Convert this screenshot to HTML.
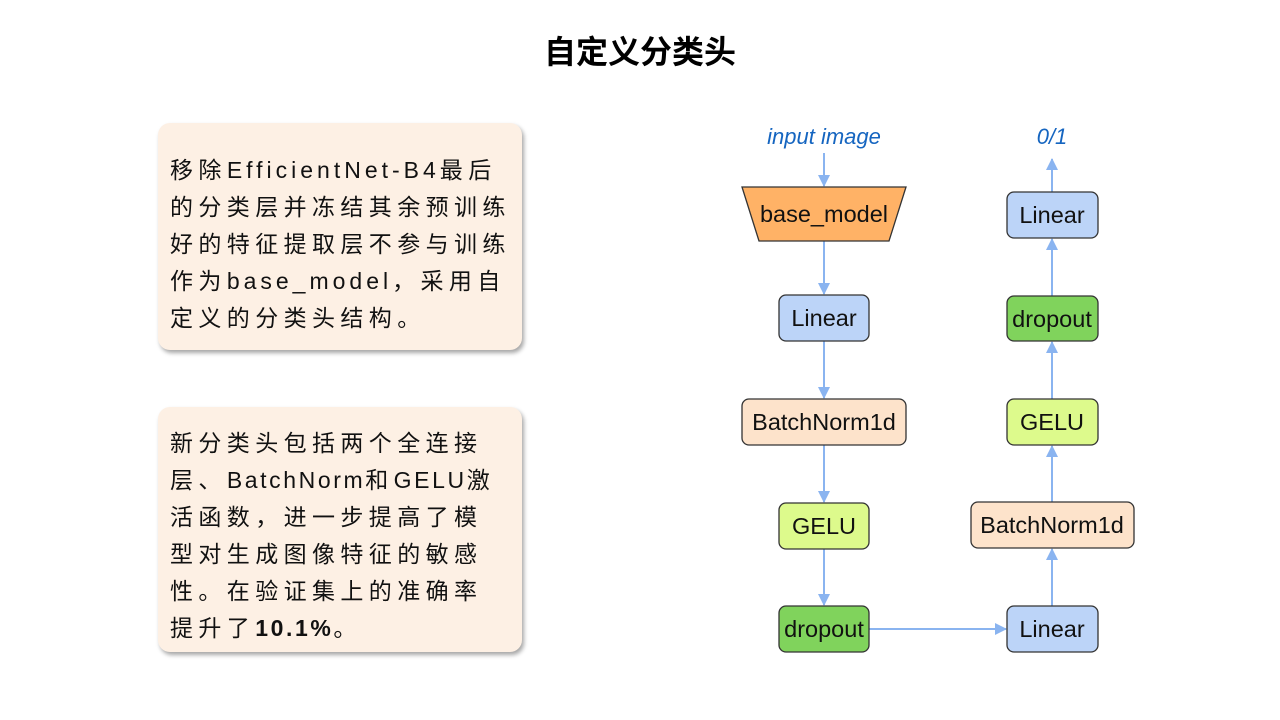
<!DOCTYPE html>
<html><head><meta charset="utf-8"><style>
body{margin:0;width:1280px;height:720px;background:#fff;position:relative;overflow:hidden;font-family:"Liberation Sans","Noto Sans CJK SC",sans-serif}
.title{position:absolute;left:0;width:1280px;top:31px;text-align:center;font-size:32px;font-weight:bold;line-height:42px}
.box{position:absolute;left:158px;width:364px;background:#fdf0e4;border-radius:12px;box-shadow:2px 3px 4px rgba(0,0,0,0.35)}
.txt{position:absolute;left:170px;font-size:23px;letter-spacing:5.4px;line-height:37px;color:#111;white-space:nowrap}
.l{letter-spacing:4px}
.m{letter-spacing:2.6px}
</style></head><body>
<div class="title">自定义分类头</div>
<div class="box" style="top:123px;height:227px"></div>
<div class="box" style="top:407px;height:245px"></div>
<div class="txt" style="top:152px">移除<span class="l">EfficientNet-B4</span>最后<br>的分类层并冻结其余预训练<br>好的特征提取层不参与训练<br>作为<span class="l">base_model</span>，采用自<br>定义的分类头结构。</div>
<div class="txt" style="top:425px">新分类头包括两个全连接<br>层、<span class="m">BatchNorm</span>和<span class="m">GELU</span>激<br>活函数，进一步提高了模<br>型对生成图像特征的敏感<br>性。在验证集上的准确率<br>提升了<b class="m">10.1%</b>。</div>
<svg width="1280" height="720" style="position:absolute;left:0;top:0" font-family="Liberation Sans, sans-serif">
<defs><marker id="a" markerWidth="12" markerHeight="12" refX="11" refY="6" orient="auto" markerUnits="userSpaceOnUse"><path d="M0,0 L12,6 L0,12 z" fill="#8ab4f0"/></marker></defs>
<g stroke="#8ab4f0" stroke-width="2" fill="none" marker-end="url(#a)">
<line x1="824" y1="153" x2="824" y2="186"/>
<line x1="824" y1="241" x2="824" y2="294"/>
<line x1="824" y1="341" x2="824" y2="398"/>
<line x1="824" y1="445" x2="824" y2="502"/>
<line x1="824" y1="549" x2="824" y2="605"/>
<line x1="869" y1="629" x2="1006" y2="629"/>
<line x1="1052" y1="606" x2="1052" y2="549"/>
<line x1="1052" y1="502" x2="1052" y2="446"/>
<line x1="1052" y1="399" x2="1052" y2="342"/>
<line x1="1052" y1="296" x2="1052" y2="239"/>
<line x1="1052" y1="192" x2="1052" y2="159"/>
</g>
<g font-size="22" fill="#1565c0" font-style="italic" text-anchor="middle">
<text x="824" y="144">input image</text><text x="1052" y="144">0/1</text></g>
<g stroke="#333" stroke-width="1.3">
<polygon points="742,187 906,187 889,241 759,241" fill="#ffb266"/>
<rect x="779" y="295" width="90" height="46" rx="7" fill="#bcd4f8"/>
<rect x="742" y="399" width="164" height="46" rx="7" fill="#fde3cb"/>
<rect x="779" y="503" width="90" height="46" rx="7" fill="#ddfa8c"/>
<rect x="779" y="606" width="90" height="46" rx="7" fill="#80d35c"/>
<rect x="1007" y="192" width="91" height="46" rx="7" fill="#bcd4f8"/>
<rect x="1007" y="296" width="91" height="45" rx="7" fill="#80d35c"/>
<rect x="1007" y="399" width="91" height="46" rx="7" fill="#ddfa8c"/>
<rect x="971" y="502" width="163" height="46" rx="7" fill="#fde3cb"/>
<rect x="1007" y="606" width="91" height="46" rx="7" fill="#bcd4f8"/>
</g>
<g font-size="23.5" fill="#111" text-anchor="middle">
<text x="824" y="222">base_model</text>
<text x="824" y="326">Linear</text>
<text x="824" y="430">BatchNorm1d</text>
<text x="824" y="534">GELU</text>
<text x="824" y="637">dropout</text>
<text x="1052" y="223">Linear</text>
<text x="1052" y="327">dropout</text>
<text x="1052" y="430">GELU</text>
<text x="1052" y="533">BatchNorm1d</text>
<text x="1052" y="637">Linear</text>
</g>
</svg>
</body></html>
